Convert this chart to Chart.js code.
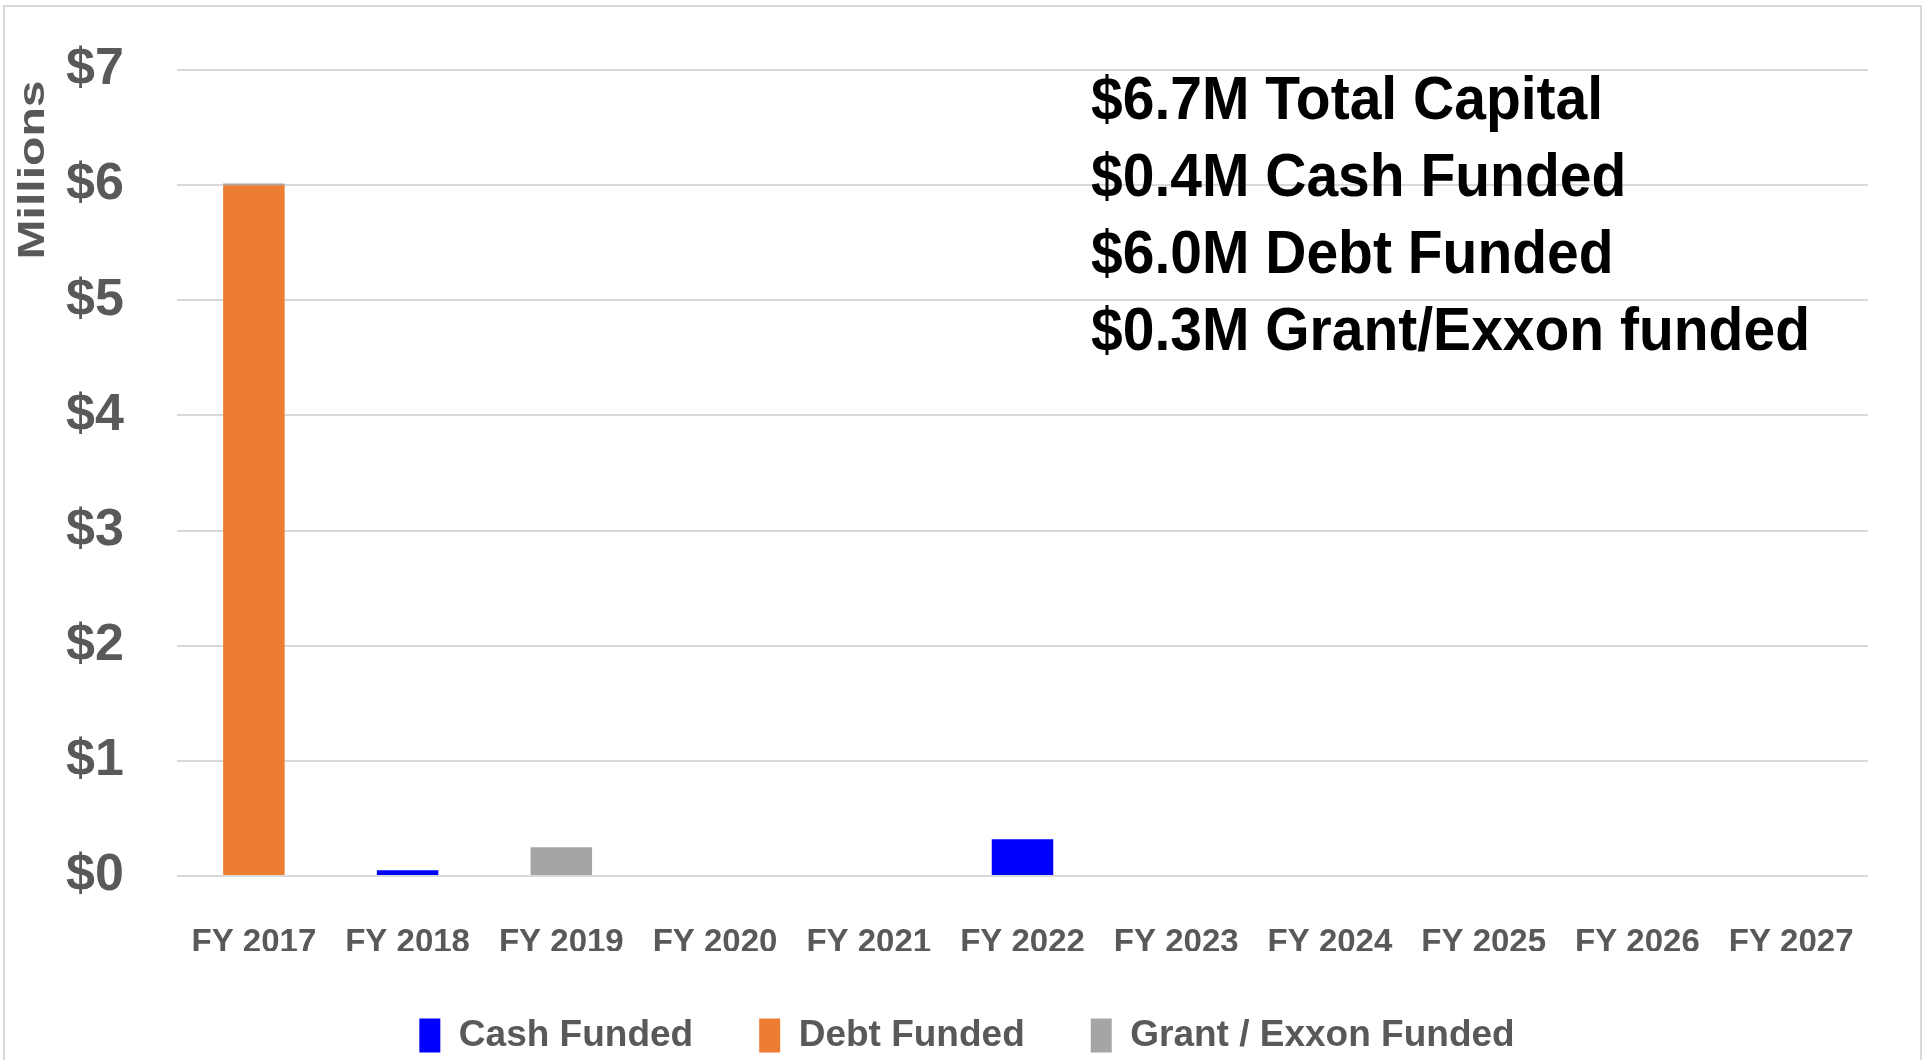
<!DOCTYPE html>
<html>
<head>
<meta charset="utf-8">
<script src="https://cdn.jsdelivr.net/npm/chart.js@4.4.0/dist/chart.umd.min.js"></script>
<style>
  html, body { margin: 0; padding: 0; background: #fff; overflow: hidden; }
  #wrap { position: relative; width: 1927px; height: 1064px; }
</style>
</head>
<body>
<div id="wrap"><canvas id="fundChart"></canvas></div>
<script>
// Chart data
const years = ["FY 2017", "FY 2018", "FY 2019", "FY 2020", "FY 2021", "FY 2022",
               "FY 2023", "FY 2024", "FY 2025", "FY 2026", "FY 2027"];
const cashFunded  = [0, 0.05, 0, 0, 0, 0.32, 0, 0, 0, 0, 0];
const debtFunded  = [6.0, 0, 0, 0, 0, 0, 0, 0, 0, 0, 0];
const grantFunded = [0.015, 0, 0.25, 0, 0, 0, 0, 0, 0, 0, 0];
const yTicks = [0, 1, 2, 3, 4, 5, 6, 7];
const notes = [
  "$6.7M Total Capital",
  "$0.4M Cash Funded",
  "$6.0M Debt Funded",
  "$0.3M Grant/Exxon funded",
];

const tickGray = "#595959";
const font = "Liberation Sans";

// frame, "Millions" title and the totals text
const extras = {
  id: "extras",
  beforeDraw(chart) {
    const ctx = chart.ctx;
    ctx.save();
    ctx.fillStyle = "#fff";
    ctx.fillRect(0, 0, chart.width, chart.height);
    ctx.strokeStyle = "#d9d9d9";
    ctx.lineWidth = 2;
    ctx.strokeRect(4, 6, 1917, 1100);
    ctx.restore();
  },
  afterDraw(chart) {
    const ctx = chart.ctx;

    // rotated axis unit
    ctx.save();
    ctx.translate(44, 170);
    ctx.rotate(-Math.PI / 2);
    ctx.scale(1.3, 1);
    ctx.font = `bold 37px '${font}'`;
    ctx.fillStyle = tickGray;
    ctx.textAlign = "center";
    ctx.textBaseline = "alphabetic";
    ctx.fillText("Millions", 0, 0);
    ctx.restore();

    // totals block
    ctx.save();
    ctx.font = `bold 57px '${font}'`;
    ctx.fillStyle = "#000";
    ctx.textAlign = "left";
    ctx.textBaseline = "alphabetic";
    notes.forEach((t, i) => {
      ctx.save();
      ctx.translate(1091, 119 + i * 77);
      ctx.scale(1, 1.08);
      ctx.fillText(t, 0, 0);
      ctx.restore();
    });
    ctx.restore();
  }
};

const ctx = document.getElementById("fundChart").getContext("2d");
new Chart(ctx, {
  type: "bar",
  data: {
    labels: years,
    datasets: [
      { label: "Cash Funded", data: cashFunded, backgroundColor: "#0000ff" },
      { label: "Debt Funded", data: debtFunded, backgroundColor: "#ed7d31" },
      { label: "Grant / Exxon Funded", data: grantFunded, backgroundColor: "#a5a5a5" },
    ],
  },
  options: {
    responsive: true,
    maintainAspectRatio: false,
    animation: false,
    layout: { padding: { top: 70, right: 59, left: 66, bottom: 0 } },
    datasets: { bar: { categoryPercentage: 0.8, barPercentage: 0.5 } },
    scales: {
      x: {
        stacked: true,
        grid: { display: false, drawTicks: false },
        border: { display: false },
        afterFit(scale) { scale.height = 75; },
        ticks: {
          color: tickGray,
          padding: 47,
          autoSkip: false,
          maxRotation: 0,
          font: { family: font, weight: "bold", size: 33 },
        },
      },
      y: {
        stacked: true,
        min: yTicks[0],
        max: yTicks[yTicks.length - 1],
        afterFit(scale) { scale.width = 111; },
        afterBuildTicks(scale) { scale.ticks = yTicks.map(v => ({ value: v })); },
        grid: { color: "#d9d9d9", lineWidth: 2, drawTicks: false },
        border: { display: false },
        ticks: {
          color: tickGray,
          padding: 0,
          crossAlign: "far",
          font: { family: font, weight: "bold", size: 52 },
          callback: v => "$" + v,
        },
      },
    },
    plugins: {
      legend: {
        position: "bottom",
        labels: {
          color: tickGray,
          boxWidth: 21,
          boxHeight: 34,
          padding: 66,
          font: { family: font, weight: "bold", size: 37 },
        },
      },
      tooltip: { enabled: false },
    },
  },
  plugins: [extras],
});
</script>
</body>
</html>
